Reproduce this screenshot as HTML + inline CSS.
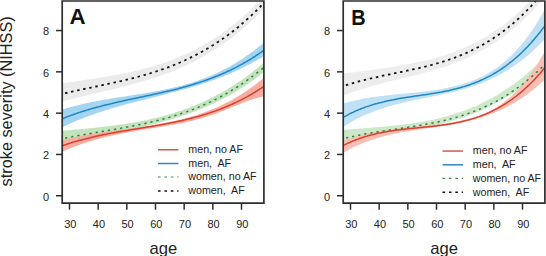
<!DOCTYPE html>
<html><head><meta charset="utf-8"><style>
html,body{margin:0;padding:0;background:#fff;width:546px;height:256px;overflow:hidden}
svg{display:block;font-family:"Liberation Sans",sans-serif}
</style></head><body>
<svg width="546" height="256" viewBox="0 0 546 256" font-family="Liberation Sans, sans-serif" fill="#222">
<defs><clipPath id="ca"><rect x="62.2" y="1" width="201.7" height="202.2"/></clipPath><clipPath id="cb"><rect x="343.2" y="1" width="201.7" height="202.2"/></clipPath></defs>
<g clip-path="url(#ca)">
<path d="M59.0,83.8 L61.0,83.5 L63.0,83.2 L65.0,82.9 L67.0,82.6 L69.0,82.3 L71.0,82.0 L73.0,81.7 L75.0,81.4 L77.0,81.1 L79.0,80.8 L81.0,80.5 L83.0,80.2 L85.0,79.9 L87.0,79.6 L89.0,79.3 L91.0,79.0 L93.0,78.7 L95.0,78.4 L97.0,78.1 L99.0,77.8 L101.0,77.5 L103.0,77.2 L105.0,76.8 L107.0,76.5 L109.0,76.2 L111.0,75.8 L113.0,75.5 L115.0,75.1 L117.0,74.8 L119.0,74.4 L121.0,74.0 L123.0,73.6 L125.0,73.2 L127.0,72.8 L129.0,72.4 L131.0,72.0 L133.0,71.5 L135.0,71.1 L137.0,70.6 L139.0,70.1 L141.0,69.7 L143.0,69.1 L145.0,68.6 L147.0,68.1 L149.0,67.5 L151.0,67.0 L153.0,66.4 L155.0,65.8 L157.0,65.2 L159.0,64.6 L161.0,63.9 L163.0,63.2 L165.0,62.5 L167.0,61.8 L169.0,61.1 L171.0,60.4 L173.0,59.6 L175.0,58.8 L177.0,58.0 L179.0,57.2 L181.0,56.3 L183.0,55.5 L185.0,54.6 L187.0,53.7 L189.0,52.7 L191.0,51.7 L193.0,50.8 L195.0,49.7 L197.0,48.7 L199.0,47.6 L201.0,46.5 L203.0,45.4 L205.0,44.3 L207.0,43.1 L209.0,41.9 L211.0,40.6 L213.0,39.4 L215.0,38.1 L217.0,36.8 L219.0,35.4 L221.0,34.0 L223.0,32.6 L225.0,31.1 L227.0,29.7 L229.0,28.1 L231.0,26.6 L233.0,25.0 L235.0,23.4 L237.0,21.7 L239.0,20.0 L241.0,18.3 L243.0,16.5 L245.0,14.7 L247.0,12.9 L249.0,11.0 L251.0,9.1 L253.0,7.2 L255.0,5.2 L257.0,3.1 L259.0,1.1 L261.0,-1.0 L263.0,-3.2 L265.0,-5.4 L267.0,-7.6 L267.0,5.7 L265.0,7.8 L263.0,9.9 L261.0,11.9 L259.0,14.0 L257.0,15.9 L255.0,17.9 L253.0,19.8 L251.0,21.6 L249.0,23.5 L247.0,25.2 L245.0,27.0 L243.0,28.7 L241.0,30.4 L239.0,32.1 L237.0,33.7 L235.0,35.3 L233.0,36.8 L231.0,38.4 L229.0,39.9 L227.0,41.3 L225.0,42.8 L223.0,44.2 L221.0,45.5 L219.0,46.9 L217.0,48.2 L215.0,49.5 L213.0,50.8 L211.0,52.0 L209.0,53.2 L207.0,54.4 L205.0,55.5 L203.0,56.7 L201.0,57.8 L199.0,58.9 L197.0,59.9 L195.0,61.0 L193.0,62.0 L191.0,63.0 L189.0,63.9 L187.0,64.9 L185.0,65.8 L183.0,66.7 L181.0,67.6 L179.0,68.5 L177.0,69.3 L175.0,70.2 L173.0,71.0 L171.0,71.8 L169.0,72.5 L167.0,73.3 L165.0,74.0 L163.0,74.8 L161.0,75.5 L159.0,76.2 L157.0,76.9 L155.0,77.5 L153.0,78.2 L151.0,78.8 L149.0,79.5 L147.0,80.1 L145.0,80.7 L143.0,81.3 L141.0,81.9 L139.0,82.4 L137.0,83.0 L135.0,83.6 L133.0,84.1 L131.0,84.6 L129.0,85.2 L127.0,85.7 L125.0,86.2 L123.0,86.7 L121.0,87.2 L119.0,87.7 L117.0,88.2 L115.0,88.7 L113.0,89.2 L111.0,89.7 L109.0,90.1 L107.0,90.6 L105.0,91.1 L103.0,91.5 L101.0,92.0 L99.0,92.5 L97.0,92.9 L95.0,93.4 L93.0,93.9 L91.0,94.3 L89.0,94.8 L87.0,95.3 L85.0,95.8 L83.0,96.2 L81.0,96.7 L79.0,97.2 L77.0,97.7 L75.0,98.2 L73.0,98.7 L71.0,99.2 L69.0,99.7 L67.0,100.2 L65.0,100.7 L63.0,101.3 L61.0,101.8 L59.0,102.3Z" fill="#ebebeb"/>
<path d="M59.0,110.6 L61.0,110.0 L63.0,109.3 L65.0,108.7 L67.0,108.1 L69.0,107.6 L71.0,107.0 L73.0,106.5 L75.0,105.9 L77.0,105.4 L79.0,104.9 L81.0,104.4 L83.0,104.0 L85.0,103.5 L87.0,103.1 L89.0,102.7 L91.0,102.2 L93.0,101.8 L95.0,101.4 L97.0,101.1 L99.0,100.7 L101.0,100.3 L103.0,100.0 L105.0,99.6 L107.0,99.3 L109.0,98.9 L111.0,98.6 L113.0,98.3 L115.0,98.0 L117.0,97.6 L119.0,97.3 L121.0,97.0 L123.0,96.7 L125.0,96.4 L127.0,96.1 L129.0,95.8 L131.0,95.5 L133.0,95.1 L135.0,94.8 L137.0,94.5 L139.0,94.2 L141.0,93.9 L143.0,93.6 L145.0,93.2 L147.0,92.9 L149.0,92.5 L151.0,92.2 L153.0,91.8 L155.0,91.5 L157.0,91.1 L159.0,90.7 L161.0,90.3 L163.0,89.9 L165.0,89.5 L167.0,89.1 L169.0,88.7 L171.0,88.2 L173.0,87.7 L175.0,87.3 L177.0,86.8 L179.0,86.3 L181.0,85.8 L183.0,85.2 L185.0,84.7 L187.0,84.1 L189.0,83.5 L191.0,82.9 L193.0,82.3 L195.0,81.6 L197.0,80.9 L199.0,80.2 L201.0,79.5 L203.0,78.8 L205.0,78.0 L207.0,77.2 L209.0,76.4 L211.0,75.6 L213.0,74.7 L215.0,73.9 L217.0,73.0 L219.0,72.0 L221.0,71.0 L223.0,70.0 L225.0,69.0 L227.0,68.0 L229.0,66.9 L231.0,65.8 L233.0,64.6 L235.0,63.4 L237.0,62.2 L239.0,61.0 L241.0,59.7 L243.0,58.4 L245.0,57.0 L247.0,55.6 L249.0,54.2 L251.0,52.7 L253.0,51.2 L255.0,49.7 L257.0,48.1 L259.0,46.5 L261.0,44.9 L263.0,43.2 L265.0,41.4 L267.0,39.6 L267.0,54.2 L265.0,55.5 L263.0,56.7 L261.0,57.9 L259.0,59.1 L257.0,60.2 L255.0,61.3 L253.0,62.4 L251.0,63.5 L249.0,64.6 L247.0,65.6 L245.0,66.6 L243.0,67.6 L241.0,68.6 L239.0,69.5 L237.0,70.4 L235.0,71.3 L233.0,72.2 L231.0,73.1 L229.0,74.0 L227.0,74.8 L225.0,75.6 L223.0,76.4 L221.0,77.2 L219.0,78.0 L217.0,78.7 L215.0,79.4 L213.0,80.2 L211.0,80.9 L209.0,81.6 L207.0,82.2 L205.0,82.9 L203.0,83.6 L201.0,84.2 L199.0,84.9 L197.0,85.5 L195.0,86.1 L193.0,86.7 L191.0,87.3 L189.0,87.9 L187.0,88.4 L185.0,89.0 L183.0,89.6 L181.0,90.1 L179.0,90.7 L177.0,91.2 L175.0,91.7 L173.0,92.3 L171.0,92.8 L169.0,93.3 L167.0,93.8 L165.0,94.3 L163.0,94.9 L161.0,95.4 L159.0,95.9 L157.0,96.4 L155.0,96.9 L153.0,97.4 L151.0,97.9 L149.0,98.4 L147.0,98.9 L145.0,99.4 L143.0,99.9 L141.0,100.4 L139.0,100.9 L137.0,101.4 L135.0,101.9 L133.0,102.5 L131.0,103.0 L129.0,103.5 L127.0,104.1 L125.0,104.6 L123.0,105.2 L121.0,105.7 L119.0,106.3 L117.0,106.8 L115.0,107.4 L113.0,108.0 L111.0,108.6 L109.0,109.2 L107.0,109.8 L105.0,110.5 L103.0,111.1 L101.0,111.7 L99.0,112.4 L97.0,113.1 L95.0,113.8 L93.0,114.5 L91.0,115.2 L89.0,115.9 L87.0,116.6 L85.0,117.4 L83.0,118.2 L81.0,119.0 L79.0,119.8 L77.0,120.6 L75.0,121.4 L73.0,122.3 L71.0,123.2 L69.0,124.1 L67.0,125.0 L65.0,125.9 L63.0,126.9 L61.0,127.8 L59.0,128.8Z" fill="#a4d5f0"/>
<path d="M59.0,131.1 L61.0,130.9 L63.0,130.7 L65.0,130.6 L67.0,130.4 L69.0,130.2 L71.0,130.0 L73.0,129.8 L75.0,129.6 L77.0,129.5 L79.0,129.3 L81.0,129.1 L83.0,128.9 L85.0,128.7 L87.0,128.5 L89.0,128.3 L91.0,128.1 L93.0,127.9 L95.0,127.7 L97.0,127.5 L99.0,127.3 L101.0,127.1 L103.0,126.8 L105.0,126.6 L107.0,126.4 L109.0,126.1 L111.0,125.9 L113.0,125.6 L115.0,125.4 L117.0,125.1 L119.0,124.8 L121.0,124.5 L123.0,124.2 L125.0,123.9 L127.0,123.6 L129.0,123.3 L131.0,123.0 L133.0,122.6 L135.0,122.3 L137.0,121.9 L139.0,121.6 L141.0,121.2 L143.0,120.8 L145.0,120.4 L147.0,120.0 L149.0,119.5 L151.0,119.1 L153.0,118.6 L155.0,118.2 L157.0,117.7 L159.0,117.2 L161.0,116.7 L163.0,116.1 L165.0,115.6 L167.0,115.0 L169.0,114.5 L171.0,113.9 L173.0,113.3 L175.0,112.6 L177.0,112.0 L179.0,111.3 L181.0,110.7 L183.0,110.0 L185.0,109.3 L187.0,108.5 L189.0,107.8 L191.0,107.0 L193.0,106.2 L195.0,105.4 L197.0,104.6 L199.0,103.7 L201.0,102.8 L203.0,101.9 L205.0,101.0 L207.0,100.1 L209.0,99.1 L211.0,98.1 L213.0,97.1 L215.0,96.1 L217.0,95.1 L219.0,94.0 L221.0,92.9 L223.0,91.7 L225.0,90.6 L227.0,89.4 L229.0,88.2 L231.0,87.0 L233.0,85.7 L235.0,84.4 L237.0,83.1 L239.0,81.8 L241.0,80.4 L243.0,79.0 L245.0,77.6 L247.0,76.2 L249.0,74.7 L251.0,73.2 L253.0,71.7 L255.0,70.1 L257.0,68.5 L259.0,66.9 L261.0,65.2 L263.0,63.5 L265.0,61.8 L267.0,60.0 L267.0,69.5 L265.0,71.2 L263.0,72.8 L261.0,74.3 L259.0,75.9 L257.0,77.4 L255.0,78.9 L253.0,80.3 L251.0,81.7 L249.0,83.1 L247.0,84.5 L245.0,85.8 L243.0,87.1 L241.0,88.4 L239.0,89.6 L237.0,90.9 L235.0,92.1 L233.0,93.3 L231.0,94.4 L229.0,95.5 L227.0,96.6 L225.0,97.7 L223.0,98.8 L221.0,99.8 L219.0,100.8 L217.0,101.8 L215.0,102.8 L213.0,103.7 L211.0,104.6 L209.0,105.5 L207.0,106.4 L205.0,107.3 L203.0,108.1 L201.0,109.0 L199.0,109.8 L197.0,110.6 L195.0,111.3 L193.0,112.1 L191.0,112.8 L189.0,113.6 L187.0,114.3 L185.0,115.0 L183.0,115.6 L181.0,116.3 L179.0,116.9 L177.0,117.6 L175.0,118.2 L173.0,118.8 L171.0,119.4 L169.0,120.0 L167.0,120.6 L165.0,121.1 L163.0,121.7 L161.0,122.2 L159.0,122.7 L157.0,123.3 L155.0,123.8 L153.0,124.3 L151.0,124.8 L149.0,125.3 L147.0,125.7 L145.0,126.2 L143.0,126.7 L141.0,127.1 L139.0,127.6 L137.0,128.0 L135.0,128.5 L133.0,128.9 L131.0,129.4 L129.0,129.8 L127.0,130.2 L125.0,130.6 L123.0,131.1 L121.0,131.5 L119.0,131.9 L117.0,132.3 L115.0,132.7 L113.0,133.2 L111.0,133.6 L109.0,134.0 L107.0,134.4 L105.0,134.8 L103.0,135.2 L101.0,135.7 L99.0,136.1 L97.0,136.5 L95.0,136.9 L93.0,137.4 L91.0,137.8 L89.0,138.3 L87.0,138.7 L85.0,139.2 L83.0,139.6 L81.0,140.1 L79.0,140.6 L77.0,141.0 L75.0,141.5 L73.0,142.0 L71.0,142.5 L69.0,143.0 L67.0,143.6 L65.0,144.1 L63.0,144.6 L61.0,145.2 L59.0,145.7Z" fill="#c2e3bc"/>
<path d="M59.0,141.2 L61.0,140.6 L63.0,140.1 L65.0,139.6 L67.0,139.1 L69.0,138.6 L71.0,138.1 L73.0,137.7 L75.0,137.2 L77.0,136.8 L79.0,136.4 L81.0,136.0 L83.0,135.6 L85.0,135.2 L87.0,134.8 L89.0,134.5 L91.0,134.1 L93.0,133.8 L95.0,133.5 L97.0,133.1 L99.0,132.8 L101.0,132.5 L103.0,132.2 L105.0,131.9 L107.0,131.6 L109.0,131.3 L111.0,131.1 L113.0,130.8 L115.0,130.5 L117.0,130.2 L119.0,130.0 L121.0,129.7 L123.0,129.4 L125.0,129.2 L127.0,128.9 L129.0,128.6 L131.0,128.4 L133.0,128.1 L135.0,127.8 L137.0,127.5 L139.0,127.2 L141.0,127.0 L143.0,126.7 L145.0,126.4 L147.0,126.1 L149.0,125.8 L151.0,125.4 L153.0,125.1 L155.0,124.8 L157.0,124.4 L159.0,124.1 L161.0,123.7 L163.0,123.4 L165.0,123.0 L167.0,122.6 L169.0,122.2 L171.0,121.8 L173.0,121.3 L175.0,120.9 L177.0,120.4 L179.0,120.0 L181.0,119.5 L183.0,119.0 L185.0,118.4 L187.0,117.9 L189.0,117.3 L191.0,116.8 L193.0,116.2 L195.0,115.5 L197.0,114.9 L199.0,114.2 L201.0,113.6 L203.0,112.9 L205.0,112.1 L207.0,111.4 L209.0,110.6 L211.0,109.8 L213.0,109.0 L215.0,108.2 L217.0,107.3 L219.0,106.4 L221.0,105.5 L223.0,104.5 L225.0,103.5 L227.0,102.5 L229.0,101.5 L231.0,100.4 L233.0,99.3 L235.0,98.1 L237.0,97.0 L239.0,95.8 L241.0,94.5 L243.0,93.3 L245.0,92.0 L247.0,90.6 L249.0,89.3 L251.0,87.8 L253.0,86.4 L255.0,84.9 L257.0,83.4 L259.0,81.8 L261.0,80.2 L263.0,78.6 L265.0,76.9 L267.0,75.2 L267.0,95.8 L265.0,96.2 L263.0,96.6 L261.0,97.1 L259.0,97.6 L257.0,98.1 L255.0,98.7 L253.0,99.3 L251.0,99.9 L249.0,100.6 L247.0,101.3 L245.0,102.1 L243.0,102.8 L241.0,103.6 L239.0,104.4 L237.0,105.2 L235.0,106.0 L233.0,106.8 L231.0,107.6 L229.0,108.4 L227.0,109.2 L225.0,110.1 L223.0,110.9 L221.0,111.6 L219.0,112.4 L217.0,113.2 L215.0,113.9 L213.0,114.6 L211.0,115.3 L209.0,116.0 L207.0,116.6 L205.0,117.3 L203.0,117.9 L201.0,118.5 L199.0,119.1 L197.0,119.6 L195.0,120.1 L193.0,120.6 L191.0,121.1 L189.0,121.6 L187.0,122.0 L185.0,122.5 L183.0,122.9 L181.0,123.3 L179.0,123.7 L177.0,124.1 L175.0,124.4 L173.0,124.8 L171.0,125.1 L169.0,125.5 L167.0,125.8 L165.0,126.2 L163.0,126.5 L161.0,126.8 L159.0,127.2 L157.0,127.5 L155.0,127.8 L153.0,128.1 L151.0,128.5 L149.0,128.8 L147.0,129.1 L145.0,129.4 L143.0,129.8 L141.0,130.1 L139.0,130.4 L137.0,130.8 L135.0,131.1 L133.0,131.5 L131.0,131.8 L129.0,132.2 L127.0,132.6 L125.0,132.9 L123.0,133.3 L121.0,133.7 L119.0,134.1 L117.0,134.5 L115.0,135.0 L113.0,135.4 L111.0,135.8 L109.0,136.3 L107.0,136.8 L105.0,137.3 L103.0,137.8 L101.0,138.3 L99.0,138.8 L97.0,139.3 L95.0,139.9 L93.0,140.5 L91.0,141.1 L89.0,141.7 L87.0,142.3 L85.0,143.0 L83.0,143.6 L81.0,144.3 L79.0,145.0 L77.0,145.8 L75.0,146.5 L73.0,147.3 L71.0,148.1 L69.0,148.9 L67.0,149.8 L65.0,150.6 L63.0,151.5 L61.0,152.4 L59.0,153.4Z" fill="#f6aea0"/>
<path d="M59.0,94.7 L60.0,94.4 L61.0,94.2 L62.0,93.9 L63.0,93.7 L64.0,93.5 L65.0,93.2 L66.0,93.0 L67.0,92.8 L68.0,92.5 L69.0,92.3 L70.0,92.1 L71.0,91.9 L72.0,91.6 L73.0,91.4 L74.0,91.2 L75.0,91.0 L76.0,90.8 L77.0,90.5 L78.0,90.3 L79.0,90.1 L80.0,89.9 L81.0,89.7 L82.0,89.5 L83.0,89.2 L84.0,89.0 L85.0,88.8 L86.0,88.6 L87.0,88.4 L88.0,88.2 L89.0,88.0 L90.0,87.8 L91.0,87.5 L92.0,87.3 L93.0,87.1 L94.0,86.9 L95.0,86.7 L96.0,86.5 L97.0,86.3 L98.0,86.1 L99.0,85.9 L100.0,85.6 L101.0,85.4 L102.0,85.2 L103.0,85.0 L104.0,84.8 L105.0,84.6 L106.0,84.4 L107.0,84.2 L108.0,83.9 L109.0,83.7 L110.0,83.5 L111.0,83.3 L112.0,83.1 L113.0,82.8 L114.0,82.6 L115.0,82.4 L116.0,82.2 L117.0,81.9 L118.0,81.7 L119.0,81.5 L120.0,81.3 L121.0,81.0 L122.0,80.8 L123.0,80.6 L124.0,80.3 L125.0,80.1 L126.0,79.8 L127.0,79.6 L128.0,79.4 L129.0,79.1 L130.0,78.9 L131.0,78.6 L132.0,78.4 L133.0,78.1 L134.0,77.8 L135.0,77.6 L136.0,77.3 L137.0,77.1 L138.0,76.8 L139.0,76.5 L140.0,76.2 L141.0,76.0 L142.0,75.7 L143.0,75.4 L144.0,75.1 L145.0,74.8 L146.0,74.5 L147.0,74.3 L148.0,74.0 L149.0,73.7 L150.0,73.4 L151.0,73.0 L152.0,72.7 L153.0,72.4 L154.0,72.1 L155.0,71.8 L156.0,71.5 L157.0,71.1 L158.0,70.8 L159.0,70.5 L160.0,70.1 L161.0,69.8 L162.0,69.4 L163.0,69.1 L164.0,68.7 L165.0,68.4 L166.0,68.0 L167.0,67.7 L168.0,67.3 L169.0,66.9 L170.0,66.5 L171.0,66.1 L172.0,65.8 L173.0,65.4 L174.0,65.0 L175.0,64.6 L176.0,64.2 L177.0,63.7 L178.0,63.3 L179.0,62.9 L180.0,62.5 L181.0,62.0 L182.0,61.6 L183.0,61.2 L184.0,60.7 L185.0,60.3 L186.0,59.8 L187.0,59.3 L188.0,58.9 L189.0,58.4 L190.0,57.9 L191.0,57.4 L192.0,56.9 L193.0,56.4 L194.0,55.9 L195.0,55.4 L196.0,54.9 L197.0,54.4 L198.0,53.9 L199.0,53.3 L200.0,52.8 L201.0,52.3 L202.0,51.7 L203.0,51.1 L204.0,50.6 L205.0,50.0 L206.0,49.4 L207.0,48.8 L208.0,48.3 L209.0,47.7 L210.0,47.1 L211.0,46.4 L212.0,45.8 L213.0,45.2 L214.0,44.6 L215.0,43.9 L216.0,43.3 L217.0,42.6 L218.0,42.0 L219.0,41.3 L220.0,40.6 L221.0,39.9 L222.0,39.3 L223.0,38.6 L224.0,37.9 L225.0,37.1 L226.0,36.4 L227.0,35.7 L228.0,35.0 L229.0,34.2 L230.0,33.5 L231.0,32.7 L232.0,31.9 L233.0,31.2 L234.0,30.4 L235.0,29.6 L236.0,28.8 L237.0,28.0 L238.0,27.2 L239.0,26.3 L240.0,25.5 L241.0,24.7 L242.0,23.8 L243.0,23.0 L244.0,22.1 L245.0,21.2 L246.0,20.3 L247.0,19.4 L248.0,18.5 L249.0,17.6 L250.0,16.7 L251.0,15.8 L252.0,14.8 L253.0,13.9 L254.0,12.9 L255.0,12.0 L256.0,11.0 L257.0,10.0 L258.0,9.0 L259.0,8.0 L260.0,7.0 L261.0,6.0 L262.0,4.9 L263.0,3.9 L264.0,2.8 L265.0,1.8 L266.0,0.7 L267.0,-0.4" fill="none" stroke="#151515" stroke-width="1.8" stroke-dasharray="2.5 3.7"/>
<path d="M59.0,120.1 L60.0,119.7 L61.0,119.3 L62.0,118.9 L63.0,118.5 L64.0,118.1 L65.0,117.7 L66.0,117.3 L67.0,116.9 L68.0,116.5 L69.0,116.1 L70.0,115.8 L71.0,115.4 L72.0,115.0 L73.0,114.7 L74.0,114.3 L75.0,114.0 L76.0,113.6 L77.0,113.3 L78.0,112.9 L79.0,112.6 L80.0,112.3 L81.0,111.9 L82.0,111.6 L83.0,111.3 L84.0,111.0 L85.0,110.7 L86.0,110.4 L87.0,110.1 L88.0,109.8 L89.0,109.5 L90.0,109.2 L91.0,108.9 L92.0,108.6 L93.0,108.3 L94.0,108.0 L95.0,107.8 L96.0,107.5 L97.0,107.2 L98.0,106.9 L99.0,106.7 L100.0,106.4 L101.0,106.2 L102.0,105.9 L103.0,105.6 L104.0,105.4 L105.0,105.1 L106.0,104.9 L107.0,104.6 L108.0,104.4 L109.0,104.2 L110.0,103.9 L111.0,103.7 L112.0,103.4 L113.0,103.2 L114.0,103.0 L115.0,102.7 L116.0,102.5 L117.0,102.3 L118.0,102.0 L119.0,101.8 L120.0,101.6 L121.0,101.4 L122.0,101.2 L123.0,100.9 L124.0,100.7 L125.0,100.5 L126.0,100.3 L127.0,100.1 L128.0,99.8 L129.0,99.6 L130.0,99.4 L131.0,99.2 L132.0,99.0 L133.0,98.8 L134.0,98.6 L135.0,98.4 L136.0,98.1 L137.0,97.9 L138.0,97.7 L139.0,97.5 L140.0,97.3 L141.0,97.1 L142.0,96.9 L143.0,96.7 L144.0,96.4 L145.0,96.2 L146.0,96.0 L147.0,95.8 L148.0,95.6 L149.0,95.4 L150.0,95.2 L151.0,95.0 L152.0,94.7 L153.0,94.5 L154.0,94.3 L155.0,94.1 L156.0,93.9 L157.0,93.6 L158.0,93.4 L159.0,93.2 L160.0,93.0 L161.0,92.8 L162.0,92.5 L163.0,92.3 L164.0,92.1 L165.0,91.8 L166.0,91.6 L167.0,91.4 L168.0,91.1 L169.0,90.9 L170.0,90.7 L171.0,90.4 L172.0,90.2 L173.0,89.9 L174.0,89.7 L175.0,89.4 L176.0,89.2 L177.0,88.9 L178.0,88.7 L179.0,88.4 L180.0,88.1 L181.0,87.9 L182.0,87.6 L183.0,87.3 L184.0,87.1 L185.0,86.8 L186.0,86.5 L187.0,86.2 L188.0,85.9 L189.0,85.6 L190.0,85.4 L191.0,85.1 L192.0,84.8 L193.0,84.5 L194.0,84.2 L195.0,83.8 L196.0,83.5 L197.0,83.2 L198.0,82.9 L199.0,82.6 L200.0,82.2 L201.0,81.9 L202.0,81.6 L203.0,81.2 L204.0,80.9 L205.0,80.5 L206.0,80.2 L207.0,79.8 L208.0,79.5 L209.0,79.1 L210.0,78.7 L211.0,78.4 L212.0,78.0 L213.0,77.6 L214.0,77.2 L215.0,76.8 L216.0,76.4 L217.0,76.0 L218.0,75.6 L219.0,75.2 L220.0,74.8 L221.0,74.4 L222.0,73.9 L223.0,73.5 L224.0,73.0 L225.0,72.6 L226.0,72.2 L227.0,71.7 L228.0,71.2 L229.0,70.8 L230.0,70.3 L231.0,69.8 L232.0,69.3 L233.0,68.8 L234.0,68.3 L235.0,67.8 L236.0,67.3 L237.0,66.8 L238.0,66.3 L239.0,65.7 L240.0,65.2 L241.0,64.7 L242.0,64.1 L243.0,63.6 L244.0,63.0 L245.0,62.4 L246.0,61.9 L247.0,61.3 L248.0,60.7 L249.0,60.1 L250.0,59.5 L251.0,58.9 L252.0,58.3 L253.0,57.6 L254.0,57.0 L255.0,56.4 L256.0,55.7 L257.0,55.0 L258.0,54.4 L259.0,53.7 L260.0,53.0 L261.0,52.3 L262.0,51.7 L263.0,50.9 L264.0,50.2 L265.0,49.5 L266.0,48.8 L267.0,48.1" fill="none" stroke="#1f86c6" stroke-width="1.5"/>
<path d="M59.0,139.3 L60.0,139.1 L61.0,138.9 L62.0,138.7 L63.0,138.5 L64.0,138.3 L65.0,138.1 L66.0,137.9 L67.0,137.7 L68.0,137.5 L69.0,137.3 L70.0,137.1 L71.0,136.9 L72.0,136.8 L73.0,136.6 L74.0,136.4 L75.0,136.2 L76.0,136.0 L77.0,135.8 L78.0,135.6 L79.0,135.5 L80.0,135.3 L81.0,135.1 L82.0,134.9 L83.0,134.7 L84.0,134.6 L85.0,134.4 L86.0,134.2 L87.0,134.0 L88.0,133.9 L89.0,133.7 L90.0,133.5 L91.0,133.4 L92.0,133.2 L93.0,133.0 L94.0,132.8 L95.0,132.7 L96.0,132.5 L97.0,132.3 L98.0,132.2 L99.0,132.0 L100.0,131.8 L101.0,131.7 L102.0,131.5 L103.0,131.3 L104.0,131.2 L105.0,131.0 L106.0,130.8 L107.0,130.6 L108.0,130.5 L109.0,130.3 L110.0,130.1 L111.0,130.0 L112.0,129.8 L113.0,129.6 L114.0,129.4 L115.0,129.3 L116.0,129.1 L117.0,128.9 L118.0,128.7 L119.0,128.6 L120.0,128.4 L121.0,128.2 L122.0,128.0 L123.0,127.8 L124.0,127.6 L125.0,127.5 L126.0,127.3 L127.0,127.1 L128.0,126.9 L129.0,126.7 L130.0,126.5 L131.0,126.3 L132.0,126.1 L133.0,125.9 L134.0,125.7 L135.0,125.5 L136.0,125.3 L137.0,125.1 L138.0,124.9 L139.0,124.7 L140.0,124.5 L141.0,124.3 L142.0,124.1 L143.0,123.9 L144.0,123.7 L145.0,123.4 L146.0,123.2 L147.0,123.0 L148.0,122.8 L149.0,122.5 L150.0,122.3 L151.0,122.1 L152.0,121.8 L153.0,121.6 L154.0,121.4 L155.0,121.1 L156.0,120.9 L157.0,120.6 L158.0,120.4 L159.0,120.1 L160.0,119.9 L161.0,119.6 L162.0,119.3 L163.0,119.1 L164.0,118.8 L165.0,118.5 L166.0,118.2 L167.0,118.0 L168.0,117.7 L169.0,117.4 L170.0,117.1 L171.0,116.8 L172.0,116.5 L173.0,116.2 L174.0,115.9 L175.0,115.6 L176.0,115.3 L177.0,115.0 L178.0,114.7 L179.0,114.3 L180.0,114.0 L181.0,113.7 L182.0,113.3 L183.0,113.0 L184.0,112.6 L185.0,112.3 L186.0,111.9 L187.0,111.6 L188.0,111.2 L189.0,110.9 L190.0,110.5 L191.0,110.1 L192.0,109.7 L193.0,109.4 L194.0,109.0 L195.0,108.6 L196.0,108.2 L197.0,107.8 L198.0,107.4 L199.0,106.9 L200.0,106.5 L201.0,106.1 L202.0,105.7 L203.0,105.2 L204.0,104.8 L205.0,104.4 L206.0,103.9 L207.0,103.5 L208.0,103.0 L209.0,102.5 L210.0,102.1 L211.0,101.6 L212.0,101.1 L213.0,100.6 L214.0,100.1 L215.0,99.6 L216.0,99.1 L217.0,98.6 L218.0,98.1 L219.0,97.6 L220.0,97.1 L221.0,96.5 L222.0,96.0 L223.0,95.4 L224.0,94.9 L225.0,94.3 L226.0,93.8 L227.0,93.2 L228.0,92.6 L229.0,92.0 L230.0,91.4 L231.0,90.8 L232.0,90.2 L233.0,89.6 L234.0,89.0 L235.0,88.4 L236.0,87.8 L237.0,87.1 L238.0,86.5 L239.0,85.8 L240.0,85.2 L241.0,84.5 L242.0,83.8 L243.0,83.2 L244.0,82.5 L245.0,81.8 L246.0,81.1 L247.0,80.4 L248.0,79.7 L249.0,78.9 L250.0,78.2 L251.0,77.5 L252.0,76.7 L253.0,76.0 L254.0,75.2 L255.0,74.5 L256.0,73.7 L257.0,72.9 L258.0,72.1 L259.0,71.3 L260.0,70.5 L261.0,69.7 L262.0,68.9 L263.0,68.0 L264.0,67.2 L265.0,66.3 L266.0,65.5 L267.0,64.6" fill="none" stroke="#2f8240" stroke-width="1.5" stroke-dasharray="2.3 3.9"/>
<path d="M59.0,146.9 L60.0,146.5 L61.0,146.2 L62.0,145.8 L63.0,145.5 L64.0,145.1 L65.0,144.8 L66.0,144.5 L67.0,144.1 L68.0,143.8 L69.0,143.5 L70.0,143.2 L71.0,142.9 L72.0,142.5 L73.0,142.2 L74.0,141.9 L75.0,141.6 L76.0,141.4 L77.0,141.1 L78.0,140.8 L79.0,140.5 L80.0,140.2 L81.0,140.0 L82.0,139.7 L83.0,139.4 L84.0,139.2 L85.0,138.9 L86.0,138.7 L87.0,138.4 L88.0,138.2 L89.0,137.9 L90.0,137.7 L91.0,137.4 L92.0,137.2 L93.0,137.0 L94.0,136.7 L95.0,136.5 L96.0,136.3 L97.0,136.1 L98.0,135.9 L99.0,135.6 L100.0,135.4 L101.0,135.2 L102.0,135.0 L103.0,134.8 L104.0,134.6 L105.0,134.4 L106.0,134.2 L107.0,134.0 L108.0,133.8 L109.0,133.6 L110.0,133.4 L111.0,133.2 L112.0,133.1 L113.0,132.9 L114.0,132.7 L115.0,132.5 L116.0,132.3 L117.0,132.1 L118.0,132.0 L119.0,131.8 L120.0,131.6 L121.0,131.4 L122.0,131.3 L123.0,131.1 L124.0,130.9 L125.0,130.8 L126.0,130.6 L127.0,130.4 L128.0,130.3 L129.0,130.1 L130.0,129.9 L131.0,129.8 L132.0,129.6 L133.0,129.4 L134.0,129.3 L135.0,129.1 L136.0,128.9 L137.0,128.8 L138.0,128.6 L139.0,128.4 L140.0,128.3 L141.0,128.1 L142.0,127.9 L143.0,127.8 L144.0,127.6 L145.0,127.5 L146.0,127.3 L147.0,127.1 L148.0,127.0 L149.0,126.8 L150.0,126.6 L151.0,126.4 L152.0,126.3 L153.0,126.1 L154.0,125.9 L155.0,125.8 L156.0,125.6 L157.0,125.4 L158.0,125.2 L159.0,125.1 L160.0,124.9 L161.0,124.7 L162.0,124.5 L163.0,124.3 L164.0,124.2 L165.0,124.0 L166.0,123.8 L167.0,123.6 L168.0,123.4 L169.0,123.2 L170.0,123.0 L171.0,122.8 L172.0,122.6 L173.0,122.4 L174.0,122.2 L175.0,122.0 L176.0,121.8 L177.0,121.6 L178.0,121.4 L179.0,121.1 L180.0,120.9 L181.0,120.7 L182.0,120.5 L183.0,120.2 L184.0,120.0 L185.0,119.8 L186.0,119.5 L187.0,119.3 L188.0,119.1 L189.0,118.8 L190.0,118.6 L191.0,118.3 L192.0,118.1 L193.0,117.8 L194.0,117.5 L195.0,117.3 L196.0,117.0 L197.0,116.7 L198.0,116.4 L199.0,116.2 L200.0,115.9 L201.0,115.6 L202.0,115.3 L203.0,115.0 L204.0,114.7 L205.0,114.4 L206.0,114.1 L207.0,113.7 L208.0,113.4 L209.0,113.1 L210.0,112.8 L211.0,112.4 L212.0,112.1 L213.0,111.8 L214.0,111.4 L215.0,111.1 L216.0,110.7 L217.0,110.3 L218.0,110.0 L219.0,109.6 L220.0,109.2 L221.0,108.8 L222.0,108.4 L223.0,108.0 L224.0,107.6 L225.0,107.2 L226.0,106.8 L227.0,106.4 L228.0,106.0 L229.0,105.5 L230.0,105.1 L231.0,104.7 L232.0,104.2 L233.0,103.8 L234.0,103.3 L235.0,102.8 L236.0,102.4 L237.0,101.9 L238.0,101.4 L239.0,100.9 L240.0,100.4 L241.0,99.9 L242.0,99.4 L243.0,98.9 L244.0,98.3 L245.0,97.8 L246.0,97.3 L247.0,96.7 L248.0,96.2 L249.0,95.6 L250.0,95.0 L251.0,94.5 L252.0,93.9 L253.0,93.3 L254.0,92.7 L255.0,92.1 L256.0,91.5 L257.0,90.9 L258.0,90.2 L259.0,89.6 L260.0,88.9 L261.0,88.3 L262.0,87.6 L263.0,87.0 L264.0,86.3 L265.0,85.6 L266.0,84.9 L267.0,84.2" fill="none" stroke="#dd3d2c" stroke-width="1.5"/>
</g>
<g clip-path="url(#cb)">
<path d="M340.0,73.8 L342.0,73.6 L344.0,73.3 L346.0,73.1 L348.0,72.9 L350.0,72.6 L352.0,72.4 L354.0,72.2 L356.0,71.9 L358.0,71.7 L360.0,71.5 L362.0,71.2 L364.0,71.0 L366.0,70.7 L368.0,70.5 L370.0,70.2 L372.0,70.0 L374.0,69.7 L376.0,69.4 L378.0,69.1 L380.0,68.8 L382.0,68.5 L384.0,68.2 L386.0,67.8 L388.0,67.5 L390.0,67.2 L392.0,66.9 L394.0,66.5 L396.0,66.2 L398.0,65.9 L400.0,65.5 L402.0,65.2 L404.0,64.8 L406.0,64.5 L408.0,64.1 L410.0,63.7 L412.0,63.4 L414.0,63.0 L416.0,62.6 L418.0,62.1 L420.0,61.7 L422.0,61.3 L424.0,60.8 L426.0,60.4 L428.0,59.9 L430.0,59.4 L432.0,58.9 L434.0,58.3 L436.0,57.8 L438.0,57.2 L440.0,56.6 L442.0,56.0 L444.0,55.4 L446.0,54.7 L448.0,54.1 L450.0,53.4 L452.0,52.7 L454.0,51.9 L456.0,51.2 L458.0,50.4 L460.0,49.6 L462.0,48.8 L464.0,47.9 L466.0,47.1 L468.0,46.2 L470.0,45.2 L472.0,44.3 L474.0,43.3 L476.0,42.3 L478.0,41.2 L480.0,40.1 L482.0,39.0 L484.0,37.9 L486.0,36.7 L488.0,35.5 L490.0,34.2 L492.0,32.9 L494.0,31.6 L496.0,30.3 L498.0,28.9 L500.0,27.4 L502.0,25.9 L504.0,24.4 L506.0,22.9 L508.0,21.3 L510.0,19.6 L512.0,17.9 L514.0,16.2 L516.0,14.4 L518.0,12.6 L520.0,10.8 L522.0,8.8 L524.0,6.9 L526.0,4.9 L528.0,2.8 L530.0,0.7 L532.0,-1.5 L534.0,-3.7 L536.0,-5.9 L538.0,-8.3 L540.0,-10.6 L542.0,-13.1 L544.0,-15.6 L546.0,-18.1 L548.0,-20.7 L548.0,-7.3 L546.0,-4.8 L544.0,-2.4 L542.0,0.0 L540.0,2.4 L538.0,4.7 L536.0,6.9 L534.0,9.1 L532.0,11.2 L530.0,13.3 L528.0,15.3 L526.0,17.3 L524.0,19.3 L522.0,21.2 L520.0,23.0 L518.0,24.8 L516.0,26.6 L514.0,28.3 L512.0,30.0 L510.0,31.6 L508.0,33.2 L506.0,34.7 L504.0,36.3 L502.0,37.7 L500.0,39.2 L498.0,40.6 L496.0,41.9 L494.0,43.2 L492.0,44.5 L490.0,45.8 L488.0,47.0 L486.0,48.2 L484.0,49.4 L482.0,50.5 L480.0,51.6 L478.0,52.6 L476.0,53.7 L474.0,54.7 L472.0,55.7 L470.0,56.6 L468.0,57.5 L466.0,58.4 L464.0,59.3 L462.0,60.2 L460.0,61.0 L458.0,61.8 L456.0,62.6 L454.0,63.4 L452.0,64.1 L450.0,64.8 L448.0,65.5 L446.0,66.2 L444.0,66.9 L442.0,67.6 L440.0,68.2 L438.0,68.8 L436.0,69.4 L434.0,70.0 L432.0,70.6 L430.0,71.2 L428.0,71.8 L426.0,72.3 L424.0,72.8 L422.0,73.4 L420.0,73.9 L418.0,74.4 L416.0,74.9 L414.0,75.4 L412.0,75.9 L410.0,76.4 L408.0,76.9 L406.0,77.4 L404.0,77.9 L402.0,78.4 L400.0,78.9 L398.0,79.4 L396.0,79.9 L394.0,80.3 L392.0,80.8 L390.0,81.3 L388.0,81.8 L386.0,82.3 L384.0,82.8 L382.0,83.4 L380.0,83.9 L378.0,84.4 L376.0,84.9 L374.0,85.5 L372.0,86.0 L370.0,86.6 L368.0,87.2 L366.0,87.8 L364.0,88.4 L362.0,89.0 L360.0,89.6 L358.0,90.3 L356.0,90.9 L354.0,91.6 L352.0,92.3 L350.0,93.0 L348.0,93.8 L346.0,94.5 L344.0,95.3 L342.0,96.1 L340.0,96.9Z" fill="#ededed"/>
<path d="M340.0,104.6 L342.0,104.0 L344.0,103.3 L346.0,102.8 L348.0,102.2 L350.0,101.7 L352.0,101.2 L354.0,100.7 L356.0,100.2 L358.0,99.8 L360.0,99.4 L362.0,99.0 L364.0,98.6 L366.0,98.2 L368.0,97.9 L370.0,97.6 L372.0,97.3 L374.0,97.0 L376.0,96.7 L378.0,96.4 L380.0,96.2 L382.0,95.9 L384.0,95.7 L386.0,95.5 L388.0,95.2 L390.0,95.0 L392.0,94.8 L394.0,94.6 L396.0,94.4 L398.0,94.2 L400.0,94.0 L402.0,93.8 L404.0,93.6 L406.0,93.5 L408.0,93.3 L410.0,93.1 L412.0,92.9 L414.0,92.7 L416.0,92.5 L418.0,92.3 L420.0,92.0 L422.0,91.8 L424.0,91.6 L426.0,91.3 L428.0,91.1 L430.0,90.8 L432.0,90.5 L434.0,90.2 L436.0,89.9 L438.0,89.6 L440.0,89.2 L442.0,88.9 L444.0,88.5 L446.0,88.1 L448.0,87.7 L450.0,87.3 L452.0,86.8 L454.0,86.3 L456.0,85.8 L458.0,85.3 L460.0,84.7 L462.0,84.2 L464.0,83.6 L466.0,82.9 L468.0,82.2 L470.0,81.5 L472.0,80.8 L474.0,80.0 L476.0,79.2 L478.0,78.3 L480.0,77.4 L482.0,76.5 L484.0,75.5 L486.0,74.4 L488.0,73.3 L490.0,72.1 L492.0,70.9 L494.0,69.6 L496.0,68.3 L498.0,66.9 L500.0,65.4 L502.0,63.8 L504.0,62.2 L506.0,60.5 L508.0,58.7 L510.0,56.8 L512.0,54.9 L514.0,52.9 L516.0,50.8 L518.0,48.6 L520.0,46.3 L522.0,43.9 L524.0,41.4 L526.0,38.8 L528.0,36.1 L530.0,33.4 L532.0,30.5 L534.0,27.5 L536.0,24.4 L538.0,21.2 L540.0,17.8 L542.0,14.4 L544.0,10.8 L546.0,7.1 L548.0,3.3 L548.0,35.4 L546.0,37.6 L544.0,39.8 L542.0,41.9 L540.0,44.0 L538.0,46.0 L536.0,47.9 L534.0,49.8 L532.0,51.7 L530.0,53.5 L528.0,55.2 L526.0,56.9 L524.0,58.5 L522.0,60.1 L520.0,61.7 L518.0,63.1 L516.0,64.6 L514.0,66.0 L512.0,67.3 L510.0,68.6 L508.0,69.9 L506.0,71.1 L504.0,72.3 L502.0,73.5 L500.0,74.6 L498.0,75.6 L496.0,76.7 L494.0,77.7 L492.0,78.6 L490.0,79.5 L488.0,80.4 L486.0,81.3 L484.0,82.1 L482.0,82.9 L480.0,83.7 L478.0,84.5 L476.0,85.2 L474.0,85.9 L472.0,86.6 L470.0,87.2 L468.0,87.9 L466.0,88.5 L464.0,89.1 L462.0,89.6 L460.0,90.2 L458.0,90.7 L456.0,91.2 L454.0,91.7 L452.0,92.2 L450.0,92.7 L448.0,93.2 L446.0,93.6 L444.0,94.1 L442.0,94.5 L440.0,94.9 L438.0,95.4 L436.0,95.8 L434.0,96.2 L432.0,96.6 L430.0,97.0 L428.0,97.4 L426.0,97.8 L424.0,98.2 L422.0,98.6 L420.0,99.0 L418.0,99.4 L416.0,99.8 L414.0,100.3 L412.0,100.7 L410.0,101.1 L408.0,101.6 L406.0,102.0 L404.0,102.5 L402.0,102.9 L400.0,103.4 L398.0,103.9 L396.0,104.5 L394.0,105.0 L392.0,105.5 L390.0,106.1 L388.0,106.7 L386.0,107.3 L384.0,107.9 L382.0,108.6 L380.0,109.2 L378.0,109.9 L376.0,110.6 L374.0,111.4 L372.0,112.2 L370.0,113.0 L368.0,113.8 L366.0,114.6 L364.0,115.5 L362.0,116.4 L360.0,117.4 L358.0,118.4 L356.0,119.4 L354.0,120.5 L352.0,121.6 L350.0,122.7 L348.0,123.9 L346.0,125.1 L344.0,126.4 L342.0,127.6 L340.0,129.0Z" fill="#bfe1f3"/>
<path d="M340.0,130.3 L342.0,130.1 L344.0,129.9 L346.0,129.8 L348.0,129.6 L350.0,129.4 L352.0,129.3 L354.0,129.1 L356.0,128.9 L358.0,128.8 L360.0,128.6 L362.0,128.4 L364.0,128.3 L366.0,128.1 L368.0,128.0 L370.0,127.8 L372.0,127.6 L374.0,127.5 L376.0,127.3 L378.0,127.1 L380.0,127.0 L382.0,126.8 L384.0,126.6 L386.0,126.4 L388.0,126.2 L390.0,126.0 L392.0,125.8 L394.0,125.6 L396.0,125.4 L398.0,125.2 L400.0,125.0 L402.0,124.7 L404.0,124.5 L406.0,124.2 L408.0,124.0 L410.0,123.7 L412.0,123.4 L414.0,123.1 L416.0,122.8 L418.0,122.5 L420.0,122.2 L422.0,121.8 L424.0,121.4 L426.0,121.1 L428.0,120.7 L430.0,120.3 L432.0,119.9 L434.0,119.4 L436.0,119.0 L438.0,118.5 L440.0,118.0 L442.0,117.5 L444.0,117.0 L446.0,116.5 L448.0,115.9 L450.0,115.3 L452.0,114.7 L454.0,114.1 L456.0,113.5 L458.0,112.8 L460.0,112.2 L462.0,111.5 L464.0,110.7 L466.0,110.0 L468.0,109.2 L470.0,108.4 L472.0,107.6 L474.0,106.7 L476.0,105.9 L478.0,105.0 L480.0,104.1 L482.0,103.1 L484.0,102.1 L486.0,101.1 L488.0,100.1 L490.0,99.0 L492.0,97.9 L494.0,96.8 L496.0,95.7 L498.0,94.5 L500.0,93.3 L502.0,92.0 L504.0,90.7 L506.0,89.4 L508.0,88.1 L510.0,86.7 L512.0,85.3 L514.0,83.9 L516.0,82.4 L518.0,80.9 L520.0,79.3 L522.0,77.7 L524.0,76.1 L526.0,74.4 L528.0,72.7 L530.0,71.0 L532.0,69.2 L534.0,67.4 L536.0,65.6 L538.0,63.7 L540.0,61.7 L542.0,59.8 L544.0,57.8 L546.0,55.7 L548.0,53.6 L548.0,69.1 L546.0,70.5 L544.0,72.0 L542.0,73.4 L540.0,74.8 L538.0,76.3 L536.0,77.7 L534.0,79.1 L532.0,80.5 L530.0,81.8 L528.0,83.2 L526.0,84.6 L524.0,85.9 L522.0,87.3 L520.0,88.6 L518.0,89.9 L516.0,91.2 L514.0,92.4 L512.0,93.7 L510.0,94.9 L508.0,96.1 L506.0,97.3 L504.0,98.5 L502.0,99.7 L500.0,100.8 L498.0,101.9 L496.0,103.0 L494.0,104.1 L492.0,105.2 L490.0,106.2 L488.0,107.2 L486.0,108.2 L484.0,109.1 L482.0,110.0 L480.0,110.9 L478.0,111.8 L476.0,112.6 L474.0,113.4 L472.0,114.2 L470.0,115.0 L468.0,115.7 L466.0,116.5 L464.0,117.2 L462.0,117.8 L460.0,118.5 L458.0,119.1 L456.0,119.7 L454.0,120.4 L452.0,120.9 L450.0,121.5 L448.0,122.1 L446.0,122.6 L444.0,123.1 L442.0,123.6 L440.0,124.1 L438.0,124.6 L436.0,125.1 L434.0,125.5 L432.0,126.0 L430.0,126.4 L428.0,126.8 L426.0,127.2 L424.0,127.7 L422.0,128.1 L420.0,128.5 L418.0,128.8 L416.0,129.2 L414.0,129.6 L412.0,130.0 L410.0,130.4 L408.0,130.7 L406.0,131.1 L404.0,131.5 L402.0,131.8 L400.0,132.2 L398.0,132.6 L396.0,132.9 L394.0,133.3 L392.0,133.7 L390.0,134.1 L388.0,134.4 L386.0,134.8 L384.0,135.2 L382.0,135.6 L380.0,136.0 L378.0,136.4 L376.0,136.8 L374.0,137.3 L372.0,137.7 L370.0,138.2 L368.0,138.6 L366.0,139.1 L364.0,139.6 L362.0,140.1 L360.0,140.6 L358.0,141.1 L356.0,141.7 L354.0,142.2 L352.0,142.8 L350.0,143.4 L348.0,144.0 L346.0,144.6 L344.0,145.3 L342.0,145.9 L340.0,146.6Z" fill="#cde7c9"/>
<path d="M340.0,141.8 L342.0,141.1 L344.0,140.4 L346.0,139.7 L348.0,139.0 L350.0,138.4 L352.0,137.8 L354.0,137.2 L356.0,136.6 L358.0,136.1 L360.0,135.5 L362.0,135.0 L364.0,134.5 L366.0,134.1 L368.0,133.6 L370.0,133.2 L372.0,132.8 L374.0,132.4 L376.0,132.0 L378.0,131.6 L380.0,131.2 L382.0,130.9 L384.0,130.6 L386.0,130.2 L388.0,129.9 L390.0,129.6 L392.0,129.4 L394.0,129.1 L396.0,128.8 L398.0,128.5 L400.0,128.3 L402.0,128.0 L404.0,127.8 L406.0,127.6 L408.0,127.3 L410.0,127.1 L412.0,126.9 L414.0,126.7 L416.0,126.5 L418.0,126.3 L420.0,126.0 L422.0,125.8 L424.0,125.6 L426.0,125.4 L428.0,125.2 L430.0,125.0 L432.0,124.8 L434.0,124.6 L436.0,124.3 L438.0,124.1 L440.0,123.9 L442.0,123.7 L444.0,123.4 L446.0,123.2 L448.0,122.9 L450.0,122.6 L452.0,122.4 L454.0,122.1 L456.0,121.7 L458.0,121.4 L460.0,121.0 L462.0,120.6 L464.0,120.2 L466.0,119.8 L468.0,119.3 L470.0,118.8 L472.0,118.2 L474.0,117.6 L476.0,117.0 L478.0,116.3 L480.0,115.5 L482.0,114.8 L484.0,113.9 L486.0,113.0 L488.0,112.1 L490.0,111.1 L492.0,110.0 L494.0,108.9 L496.0,107.7 L498.0,106.4 L500.0,105.1 L502.0,103.7 L504.0,102.2 L506.0,100.6 L508.0,99.0 L510.0,97.2 L512.0,95.4 L514.0,93.5 L516.0,91.5 L518.0,89.4 L520.0,87.2 L522.0,85.0 L524.0,82.6 L526.0,80.1 L528.0,77.5 L530.0,74.8 L532.0,72.0 L534.0,69.1 L536.0,66.1 L538.0,62.9 L540.0,59.7 L542.0,56.3 L544.0,52.8 L546.0,49.2 L548.0,45.4 L548.0,76.4 L546.0,78.3 L544.0,80.3 L542.0,82.1 L540.0,84.0 L538.0,85.7 L536.0,87.4 L534.0,89.1 L532.0,90.7 L530.0,92.3 L528.0,93.8 L526.0,95.2 L524.0,96.7 L522.0,98.0 L520.0,99.3 L518.0,100.6 L516.0,101.9 L514.0,103.1 L512.0,104.2 L510.0,105.3 L508.0,106.4 L506.0,107.4 L504.0,108.4 L502.0,109.4 L500.0,110.3 L498.0,111.2 L496.0,112.1 L494.0,112.9 L492.0,113.7 L490.0,114.4 L488.0,115.2 L486.0,115.9 L484.0,116.6 L482.0,117.2 L480.0,117.8 L478.0,118.4 L476.0,119.0 L474.0,119.6 L472.0,120.1 L470.0,120.6 L468.0,121.1 L466.0,121.5 L464.0,122.0 L462.0,122.4 L460.0,122.9 L458.0,123.3 L456.0,123.6 L454.0,124.0 L452.0,124.4 L450.0,124.7 L448.0,125.1 L446.0,125.4 L444.0,125.7 L442.0,126.0 L440.0,126.3 L438.0,126.7 L436.0,127.0 L434.0,127.2 L432.0,127.5 L430.0,127.8 L428.0,128.1 L426.0,128.4 L424.0,128.7 L422.0,129.0 L420.0,129.3 L418.0,129.6 L416.0,129.9 L414.0,130.2 L412.0,130.5 L410.0,130.9 L408.0,131.2 L406.0,131.5 L404.0,131.9 L402.0,132.3 L400.0,132.6 L398.0,133.0 L396.0,133.4 L394.0,133.9 L392.0,134.3 L390.0,134.8 L388.0,135.2 L386.0,135.7 L384.0,136.3 L382.0,136.8 L380.0,137.3 L378.0,137.9 L376.0,138.5 L374.0,139.2 L372.0,139.8 L370.0,140.5 L368.0,141.2 L366.0,142.0 L364.0,142.8 L362.0,143.6 L360.0,144.4 L358.0,145.3 L356.0,146.2 L354.0,147.1 L352.0,148.1 L350.0,149.1 L348.0,150.2 L346.0,151.2 L344.0,152.4 L342.0,153.5 L340.0,154.8Z" fill="#f8c0b5"/>
<path d="M340.0,87.2 L341.0,86.9 L342.0,86.5 L343.0,86.2 L344.0,85.9 L345.0,85.5 L346.0,85.2 L347.0,84.9 L348.0,84.6 L349.0,84.3 L350.0,84.0 L351.0,83.7 L352.0,83.4 L353.0,83.1 L354.0,82.8 L355.0,82.5 L356.0,82.2 L357.0,81.9 L358.0,81.7 L359.0,81.4 L360.0,81.1 L361.0,80.9 L362.0,80.6 L363.0,80.3 L364.0,80.1 L365.0,79.8 L366.0,79.6 L367.0,79.4 L368.0,79.1 L369.0,78.9 L370.0,78.6 L371.0,78.4 L372.0,78.2 L373.0,77.9 L374.0,77.7 L375.0,77.5 L376.0,77.3 L377.0,77.0 L378.0,76.8 L379.0,76.6 L380.0,76.4 L381.0,76.2 L382.0,75.9 L383.0,75.7 L384.0,75.5 L385.0,75.3 L386.0,75.1 L387.0,74.9 L388.0,74.7 L389.0,74.5 L390.0,74.3 L391.0,74.1 L392.0,73.8 L393.0,73.6 L394.0,73.4 L395.0,73.2 L396.0,73.0 L397.0,72.8 L398.0,72.6 L399.0,72.4 L400.0,72.2 L401.0,72.0 L402.0,71.8 L403.0,71.6 L404.0,71.4 L405.0,71.2 L406.0,70.9 L407.0,70.7 L408.0,70.5 L409.0,70.3 L410.0,70.1 L411.0,69.9 L412.0,69.7 L413.0,69.4 L414.0,69.2 L415.0,69.0 L416.0,68.8 L417.0,68.5 L418.0,68.3 L419.0,68.1 L420.0,67.8 L421.0,67.6 L422.0,67.4 L423.0,67.1 L424.0,66.9 L425.0,66.6 L426.0,66.4 L427.0,66.1 L428.0,65.9 L429.0,65.6 L430.0,65.4 L431.0,65.1 L432.0,64.8 L433.0,64.6 L434.0,64.3 L435.0,64.0 L436.0,63.7 L437.0,63.4 L438.0,63.2 L439.0,62.9 L440.0,62.6 L441.0,62.3 L442.0,62.0 L443.0,61.6 L444.0,61.3 L445.0,61.0 L446.0,60.7 L447.0,60.4 L448.0,60.0 L449.0,59.7 L450.0,59.3 L451.0,59.0 L452.0,58.6 L453.0,58.3 L454.0,57.9 L455.0,57.6 L456.0,57.2 L457.0,56.8 L458.0,56.4 L459.0,56.0 L460.0,55.6 L461.0,55.2 L462.0,54.8 L463.0,54.4 L464.0,54.0 L465.0,53.5 L466.0,53.1 L467.0,52.6 L468.0,52.2 L469.0,51.7 L470.0,51.3 L471.0,50.8 L472.0,50.3 L473.0,49.8 L474.0,49.3 L475.0,48.8 L476.0,48.3 L477.0,47.8 L478.0,47.3 L479.0,46.8 L480.0,46.2 L481.0,45.7 L482.0,45.1 L483.0,44.6 L484.0,44.0 L485.0,43.4 L486.0,42.8 L487.0,42.2 L488.0,41.6 L489.0,41.0 L490.0,40.4 L491.0,39.8 L492.0,39.1 L493.0,38.5 L494.0,37.8 L495.0,37.2 L496.0,36.5 L497.0,35.8 L498.0,35.1 L499.0,34.4 L500.0,33.7 L501.0,33.0 L502.0,32.2 L503.0,31.5 L504.0,30.7 L505.0,30.0 L506.0,29.2 L507.0,28.4 L508.0,27.6 L509.0,26.8 L510.0,26.0 L511.0,25.1 L512.0,24.3 L513.0,23.5 L514.0,22.6 L515.0,21.7 L516.0,20.8 L517.0,19.9 L518.0,19.0 L519.0,18.1 L520.0,17.2 L521.0,16.2 L522.0,15.3 L523.0,14.3 L524.0,13.4 L525.0,12.4 L526.0,11.4 L527.0,10.4 L528.0,9.3 L529.0,8.3 L530.0,7.2 L531.0,6.2 L532.0,5.1 L533.0,4.0 L534.0,2.9 L535.0,1.8 L536.0,0.7 L537.0,-0.5 L538.0,-1.6 L539.0,-2.8 L540.0,-4.0 L541.0,-5.2 L542.0,-6.4 L543.0,-7.6 L544.0,-8.8 L545.0,-10.1 L546.0,-11.3 L547.0,-12.6 L548.0,-13.9" fill="none" stroke="#151515" stroke-width="1.8" stroke-dasharray="2.5 3.7"/>
<path d="M340.0,119.3 L341.0,118.7 L342.0,118.1 L343.0,117.5 L344.0,116.9 L345.0,116.4 L346.0,115.8 L347.0,115.3 L348.0,114.8 L349.0,114.2 L350.0,113.7 L351.0,113.2 L352.0,112.8 L353.0,112.3 L354.0,111.8 L355.0,111.3 L356.0,110.9 L357.0,110.5 L358.0,110.0 L359.0,109.6 L360.0,109.2 L361.0,108.8 L362.0,108.4 L363.0,108.0 L364.0,107.7 L365.0,107.3 L366.0,106.9 L367.0,106.6 L368.0,106.2 L369.0,105.9 L370.0,105.6 L371.0,105.2 L372.0,104.9 L373.0,104.6 L374.0,104.3 L375.0,104.0 L376.0,103.7 L377.0,103.5 L378.0,103.2 L379.0,102.9 L380.0,102.7 L381.0,102.4 L382.0,102.2 L383.0,101.9 L384.0,101.7 L385.0,101.4 L386.0,101.2 L387.0,101.0 L388.0,100.8 L389.0,100.6 L390.0,100.4 L391.0,100.2 L392.0,99.9 L393.0,99.8 L394.0,99.6 L395.0,99.4 L396.0,99.2 L397.0,99.0 L398.0,98.8 L399.0,98.6 L400.0,98.5 L401.0,98.3 L402.0,98.1 L403.0,98.0 L404.0,97.8 L405.0,97.7 L406.0,97.5 L407.0,97.3 L408.0,97.2 L409.0,97.0 L410.0,96.9 L411.0,96.7 L412.0,96.6 L413.0,96.4 L414.0,96.3 L415.0,96.1 L416.0,96.0 L417.0,95.8 L418.0,95.7 L419.0,95.6 L420.0,95.4 L421.0,95.3 L422.0,95.1 L423.0,95.0 L424.0,94.8 L425.0,94.7 L426.0,94.5 L427.0,94.4 L428.0,94.2 L429.0,94.1 L430.0,93.9 L431.0,93.8 L432.0,93.6 L433.0,93.4 L434.0,93.3 L435.0,93.1 L436.0,92.9 L437.0,92.8 L438.0,92.6 L439.0,92.4 L440.0,92.2 L441.0,92.1 L442.0,91.9 L443.0,91.7 L444.0,91.5 L445.0,91.3 L446.0,91.1 L447.0,90.9 L448.0,90.7 L449.0,90.5 L450.0,90.2 L451.0,90.0 L452.0,89.8 L453.0,89.5 L454.0,89.3 L455.0,89.1 L456.0,88.8 L457.0,88.6 L458.0,88.3 L459.0,88.0 L460.0,87.8 L461.0,87.5 L462.0,87.2 L463.0,86.9 L464.0,86.6 L465.0,86.3 L466.0,86.0 L467.0,85.6 L468.0,85.3 L469.0,85.0 L470.0,84.6 L471.0,84.3 L472.0,83.9 L473.0,83.5 L474.0,83.2 L475.0,82.8 L476.0,82.4 L477.0,82.0 L478.0,81.6 L479.0,81.2 L480.0,80.7 L481.0,80.3 L482.0,79.8 L483.0,79.4 L484.0,78.9 L485.0,78.4 L486.0,77.9 L487.0,77.4 L488.0,76.9 L489.0,76.4 L490.0,75.9 L491.0,75.3 L492.0,74.8 L493.0,74.2 L494.0,73.6 L495.0,73.0 L496.0,72.5 L497.0,71.8 L498.0,71.2 L499.0,70.6 L500.0,69.9 L501.0,69.3 L502.0,68.6 L503.0,67.9 L504.0,67.2 L505.0,66.5 L506.0,65.8 L507.0,65.0 L508.0,64.3 L509.0,63.5 L510.0,62.7 L511.0,61.9 L512.0,61.1 L513.0,60.3 L514.0,59.5 L515.0,58.6 L516.0,57.8 L517.0,56.9 L518.0,56.0 L519.0,55.1 L520.0,54.2 L521.0,53.2 L522.0,52.3 L523.0,51.3 L524.0,50.3 L525.0,49.3 L526.0,48.3 L527.0,47.2 L528.0,46.2 L529.0,45.1 L530.0,44.0 L531.0,42.9 L532.0,41.8 L533.0,40.6 L534.0,39.5 L535.0,38.3 L536.0,37.1 L537.0,35.9 L538.0,34.7 L539.0,33.4 L540.0,32.2 L541.0,30.9 L542.0,29.6 L543.0,28.3 L544.0,26.9 L545.0,25.6 L546.0,24.2 L547.0,22.8 L548.0,21.4" fill="none" stroke="#1f86c6" stroke-width="1.5"/>
<path d="M340.0,139.6 L341.0,139.3 L342.0,139.1 L343.0,138.8 L344.0,138.6 L345.0,138.3 L346.0,138.1 L347.0,137.8 L348.0,137.6 L349.0,137.3 L350.0,137.1 L351.0,136.9 L352.0,136.7 L353.0,136.4 L354.0,136.2 L355.0,136.0 L356.0,135.8 L357.0,135.6 L358.0,135.4 L359.0,135.2 L360.0,135.0 L361.0,134.8 L362.0,134.6 L363.0,134.4 L364.0,134.2 L365.0,134.0 L366.0,133.8 L367.0,133.7 L368.0,133.5 L369.0,133.3 L370.0,133.1 L371.0,133.0 L372.0,132.8 L373.0,132.6 L374.0,132.5 L375.0,132.3 L376.0,132.1 L377.0,132.0 L378.0,131.8 L379.0,131.6 L380.0,131.5 L381.0,131.3 L382.0,131.2 L383.0,131.0 L384.0,130.9 L385.0,130.7 L386.0,130.6 L387.0,130.4 L388.0,130.3 L389.0,130.1 L390.0,130.0 L391.0,129.8 L392.0,129.7 L393.0,129.5 L394.0,129.4 L395.0,129.2 L396.0,129.1 L397.0,128.9 L398.0,128.8 L399.0,128.6 L400.0,128.5 L401.0,128.3 L402.0,128.2 L403.0,128.0 L404.0,127.9 L405.0,127.7 L406.0,127.6 L407.0,127.4 L408.0,127.3 L409.0,127.1 L410.0,127.0 L411.0,126.8 L412.0,126.7 L413.0,126.5 L414.0,126.3 L415.0,126.2 L416.0,126.0 L417.0,125.8 L418.0,125.7 L419.0,125.5 L420.0,125.3 L421.0,125.2 L422.0,125.0 L423.0,124.8 L424.0,124.7 L425.0,124.5 L426.0,124.3 L427.0,124.1 L428.0,123.9 L429.0,123.7 L430.0,123.5 L431.0,123.3 L432.0,123.1 L433.0,123.0 L434.0,122.7 L435.0,122.5 L436.0,122.3 L437.0,122.1 L438.0,121.9 L439.0,121.7 L440.0,121.5 L441.0,121.2 L442.0,121.0 L443.0,120.8 L444.0,120.5 L445.0,120.3 L446.0,120.1 L447.0,119.8 L448.0,119.6 L449.0,119.3 L450.0,119.1 L451.0,118.8 L452.0,118.5 L453.0,118.3 L454.0,118.0 L455.0,117.7 L456.0,117.4 L457.0,117.1 L458.0,116.8 L459.0,116.5 L460.0,116.2 L461.0,115.9 L462.0,115.6 L463.0,115.3 L464.0,115.0 L465.0,114.6 L466.0,114.3 L467.0,113.9 L468.0,113.6 L469.0,113.2 L470.0,112.9 L471.0,112.5 L472.0,112.2 L473.0,111.8 L474.0,111.4 L475.0,111.0 L476.0,110.6 L477.0,110.2 L478.0,109.8 L479.0,109.4 L480.0,109.0 L481.0,108.6 L482.0,108.1 L483.0,107.7 L484.0,107.2 L485.0,106.8 L486.0,106.3 L487.0,105.9 L488.0,105.4 L489.0,104.9 L490.0,104.4 L491.0,103.9 L492.0,103.4 L493.0,102.9 L494.0,102.4 L495.0,101.9 L496.0,101.3 L497.0,100.8 L498.0,100.3 L499.0,99.7 L500.0,99.1 L501.0,98.6 L502.0,98.0 L503.0,97.4 L504.0,96.8 L505.0,96.2 L506.0,95.6 L507.0,95.0 L508.0,94.3 L509.0,93.7 L510.0,93.0 L511.0,92.4 L512.0,91.7 L513.0,91.0 L514.0,90.4 L515.0,89.7 L516.0,89.0 L517.0,88.2 L518.0,87.5 L519.0,86.8 L520.0,86.0 L521.0,85.3 L522.0,84.5 L523.0,83.8 L524.0,83.0 L525.0,82.2 L526.0,81.4 L527.0,80.6 L528.0,79.8 L529.0,78.9 L530.0,78.1 L531.0,77.2 L532.0,76.4 L533.0,75.5 L534.0,74.6 L535.0,73.7 L536.0,72.8 L537.0,71.9 L538.0,71.0 L539.0,70.1 L540.0,69.1 L541.0,68.1 L542.0,67.2 L543.0,66.2 L544.0,65.2 L545.0,64.2 L546.0,63.2 L547.0,62.2 L548.0,61.1" fill="none" stroke="#2f8240" stroke-width="1.5" stroke-dasharray="2.3 3.9"/>
<path d="M340.0,147.1 L341.0,146.6 L342.0,146.1 L343.0,145.6 L344.0,145.1 L345.0,144.6 L346.0,144.1 L347.0,143.6 L348.0,143.1 L349.0,142.7 L350.0,142.3 L351.0,141.8 L352.0,141.4 L353.0,141.0 L354.0,140.6 L355.0,140.2 L356.0,139.8 L357.0,139.4 L358.0,139.1 L359.0,138.7 L360.0,138.3 L361.0,138.0 L362.0,137.7 L363.0,137.3 L364.0,137.0 L365.0,136.7 L366.0,136.4 L367.0,136.1 L368.0,135.8 L369.0,135.6 L370.0,135.3 L371.0,135.0 L372.0,134.8 L373.0,134.5 L374.0,134.3 L375.0,134.0 L376.0,133.8 L377.0,133.6 L378.0,133.3 L379.0,133.1 L380.0,132.9 L381.0,132.7 L382.0,132.5 L383.0,132.3 L384.0,132.1 L385.0,132.0 L386.0,131.8 L387.0,131.6 L388.0,131.4 L389.0,131.3 L390.0,131.1 L391.0,131.0 L392.0,130.8 L393.0,130.7 L394.0,130.5 L395.0,130.4 L396.0,130.2 L397.0,130.1 L398.0,130.0 L399.0,129.8 L400.0,129.7 L401.0,129.6 L402.0,129.5 L403.0,129.4 L404.0,129.2 L405.0,129.1 L406.0,129.0 L407.0,128.9 L408.0,128.8 L409.0,128.7 L410.0,128.6 L411.0,128.5 L412.0,128.4 L413.0,128.3 L414.0,128.2 L415.0,128.1 L416.0,128.0 L417.0,127.9 L418.0,127.8 L419.0,127.7 L420.0,127.6 L421.0,127.5 L422.0,127.4 L423.0,127.3 L424.0,127.2 L425.0,127.1 L426.0,127.0 L427.0,126.9 L428.0,126.8 L429.0,126.7 L430.0,126.6 L431.0,126.5 L432.0,126.4 L433.0,126.2 L434.0,126.1 L435.0,126.0 L436.0,125.9 L437.0,125.8 L438.0,125.6 L439.0,125.5 L440.0,125.4 L441.0,125.3 L442.0,125.1 L443.0,125.0 L444.0,124.8 L445.0,124.7 L446.0,124.6 L447.0,124.4 L448.0,124.2 L449.0,124.1 L450.0,123.9 L451.0,123.7 L452.0,123.6 L453.0,123.4 L454.0,123.2 L455.0,123.0 L456.0,122.8 L457.0,122.6 L458.0,122.4 L459.0,122.2 L460.0,122.0 L461.0,121.8 L462.0,121.5 L463.0,121.3 L464.0,121.1 L465.0,120.8 L466.0,120.6 L467.0,120.3 L468.0,120.0 L469.0,119.8 L470.0,119.5 L471.0,119.2 L472.0,118.9 L473.0,118.6 L474.0,118.3 L475.0,118.0 L476.0,117.6 L477.0,117.3 L478.0,116.9 L479.0,116.6 L480.0,116.2 L481.0,115.9 L482.0,115.5 L483.0,115.1 L484.0,114.7 L485.0,114.3 L486.0,113.9 L487.0,113.4 L488.0,113.0 L489.0,112.6 L490.0,112.1 L491.0,111.6 L492.0,111.2 L493.0,110.7 L494.0,110.2 L495.0,109.7 L496.0,109.2 L497.0,108.6 L498.0,108.1 L499.0,107.5 L500.0,107.0 L501.0,106.4 L502.0,105.8 L503.0,105.2 L504.0,104.6 L505.0,104.0 L506.0,103.3 L507.0,102.7 L508.0,102.0 L509.0,101.4 L510.0,100.7 L511.0,100.0 L512.0,99.3 L513.0,98.5 L514.0,97.8 L515.0,97.0 L516.0,96.3 L517.0,95.5 L518.0,94.7 L519.0,93.9 L520.0,93.1 L521.0,92.2 L522.0,91.4 L523.0,90.5 L524.0,89.6 L525.0,88.7 L526.0,87.8 L527.0,86.9 L528.0,85.9 L529.0,85.0 L530.0,84.0 L531.0,83.0 L532.0,82.0 L533.0,81.0 L534.0,80.0 L535.0,78.9 L536.0,77.8 L537.0,76.7 L538.0,75.6 L539.0,74.5 L540.0,73.4 L541.0,72.2 L542.0,71.0 L543.0,69.8 L544.0,68.6 L545.0,67.4 L546.0,66.2 L547.0,64.9 L548.0,63.6" fill="none" stroke="#dd3d2c" stroke-width="1.5"/>
</g>
<path d="M62.2,1.0 H263.9 V203.2 H62.2 Z" fill="none" stroke="#2e2e2e" stroke-width="1.7"/>
<line x1="56.0" y1="195.75" x2="62.2" y2="195.75" stroke="#2e2e2e" stroke-width="1.5"/>
<text x="49.1" y="200.65" text-anchor="end" font-size="11">0</text>
<line x1="56.0" y1="154.45" x2="62.2" y2="154.45" stroke="#2e2e2e" stroke-width="1.5"/>
<text x="49.1" y="159.35" text-anchor="end" font-size="11">2</text>
<line x1="56.0" y1="113.15" x2="62.2" y2="113.15" stroke="#2e2e2e" stroke-width="1.5"/>
<text x="49.1" y="118.05" text-anchor="end" font-size="11">4</text>
<line x1="56.0" y1="71.85" x2="62.2" y2="71.85" stroke="#2e2e2e" stroke-width="1.5"/>
<text x="49.1" y="76.75" text-anchor="end" font-size="11">6</text>
<line x1="56.0" y1="30.55" x2="62.2" y2="30.55" stroke="#2e2e2e" stroke-width="1.5"/>
<text x="49.1" y="35.45" text-anchor="end" font-size="11">8</text>
<line x1="69.50" y1="203.2" x2="69.50" y2="209.7" stroke="#2e2e2e" stroke-width="1.5"/>
<text x="70.30" y="227.8" text-anchor="middle" font-size="11">30</text>
<line x1="98.17" y1="203.2" x2="98.17" y2="209.7" stroke="#2e2e2e" stroke-width="1.5"/>
<text x="98.97" y="227.8" text-anchor="middle" font-size="11">40</text>
<line x1="126.83" y1="203.2" x2="126.83" y2="209.7" stroke="#2e2e2e" stroke-width="1.5"/>
<text x="127.63" y="227.8" text-anchor="middle" font-size="11">50</text>
<line x1="155.50" y1="203.2" x2="155.50" y2="209.7" stroke="#2e2e2e" stroke-width="1.5"/>
<text x="156.30" y="227.8" text-anchor="middle" font-size="11">60</text>
<line x1="184.17" y1="203.2" x2="184.17" y2="209.7" stroke="#2e2e2e" stroke-width="1.5"/>
<text x="184.97" y="227.8" text-anchor="middle" font-size="11">70</text>
<line x1="212.83" y1="203.2" x2="212.83" y2="209.7" stroke="#2e2e2e" stroke-width="1.5"/>
<text x="213.63" y="227.8" text-anchor="middle" font-size="11">80</text>
<line x1="241.50" y1="203.2" x2="241.50" y2="209.7" stroke="#2e2e2e" stroke-width="1.5"/>
<text x="242.30" y="227.8" text-anchor="middle" font-size="11">90</text>
<path d="M343.2,1.0 H544.9 V203.2 H343.2 Z" fill="none" stroke="#2e2e2e" stroke-width="1.7"/>
<line x1="337.0" y1="195.75" x2="343.2" y2="195.75" stroke="#2e2e2e" stroke-width="1.5"/>
<text x="330.09999999999997" y="200.65" text-anchor="end" font-size="11">0</text>
<line x1="337.0" y1="154.45" x2="343.2" y2="154.45" stroke="#2e2e2e" stroke-width="1.5"/>
<text x="330.09999999999997" y="159.35" text-anchor="end" font-size="11">2</text>
<line x1="337.0" y1="113.15" x2="343.2" y2="113.15" stroke="#2e2e2e" stroke-width="1.5"/>
<text x="330.09999999999997" y="118.05" text-anchor="end" font-size="11">4</text>
<line x1="337.0" y1="71.85" x2="343.2" y2="71.85" stroke="#2e2e2e" stroke-width="1.5"/>
<text x="330.09999999999997" y="76.75" text-anchor="end" font-size="11">6</text>
<line x1="337.0" y1="30.55" x2="343.2" y2="30.55" stroke="#2e2e2e" stroke-width="1.5"/>
<text x="330.09999999999997" y="35.45" text-anchor="end" font-size="11">8</text>
<line x1="350.50" y1="203.2" x2="350.50" y2="209.7" stroke="#2e2e2e" stroke-width="1.5"/>
<text x="351.30" y="227.8" text-anchor="middle" font-size="11">30</text>
<line x1="379.17" y1="203.2" x2="379.17" y2="209.7" stroke="#2e2e2e" stroke-width="1.5"/>
<text x="379.97" y="227.8" text-anchor="middle" font-size="11">40</text>
<line x1="407.83" y1="203.2" x2="407.83" y2="209.7" stroke="#2e2e2e" stroke-width="1.5"/>
<text x="408.63" y="227.8" text-anchor="middle" font-size="11">50</text>
<line x1="436.50" y1="203.2" x2="436.50" y2="209.7" stroke="#2e2e2e" stroke-width="1.5"/>
<text x="437.30" y="227.8" text-anchor="middle" font-size="11">60</text>
<line x1="465.17" y1="203.2" x2="465.17" y2="209.7" stroke="#2e2e2e" stroke-width="1.5"/>
<text x="465.97" y="227.8" text-anchor="middle" font-size="11">70</text>
<line x1="493.83" y1="203.2" x2="493.83" y2="209.7" stroke="#2e2e2e" stroke-width="1.5"/>
<text x="494.63" y="227.8" text-anchor="middle" font-size="11">80</text>
<line x1="522.50" y1="203.2" x2="522.50" y2="209.7" stroke="#2e2e2e" stroke-width="1.5"/>
<text x="523.30" y="227.8" text-anchor="middle" font-size="11">90</text>
<line x1="158" y1="149.75" x2="178.5" y2="149.75" stroke="#cf5a50" stroke-width="1.5"/>
<text x="188.3" y="153.05" font-size="10.7" xml:space="preserve">men, no AF</text>
<line x1="158" y1="163.5" x2="178.5" y2="163.5" stroke="#3287bf" stroke-width="1.5"/>
<text x="188.3" y="166.8" font-size="10.7" xml:space="preserve">men,  AF</text>
<line x1="158" y1="177" x2="178.5" y2="177" stroke="#3a8a50" stroke-width="1.2" stroke-dasharray="2.6 3.8"/>
<text x="188.3" y="180.3" font-size="10.7" xml:space="preserve">women, no AF</text>
<line x1="158" y1="191" x2="178.5" y2="191" stroke="#111" stroke-width="1.6" stroke-dasharray="2.6 3.8"/>
<text x="188.3" y="194.3" font-size="10.7" xml:space="preserve">women,  AF</text>
<line x1="442.5" y1="151.05" x2="463.0" y2="151.05" stroke="#cf5a50" stroke-width="1.5"/>
<text x="472.8" y="154.35000000000002" font-size="10.7" xml:space="preserve">men, no AF</text>
<line x1="442.5" y1="164.8" x2="463.0" y2="164.8" stroke="#3287bf" stroke-width="1.5"/>
<text x="472.8" y="168.10000000000002" font-size="10.7" xml:space="preserve">men,  AF</text>
<line x1="442.5" y1="178.3" x2="463.0" y2="178.3" stroke="#3a8a50" stroke-width="1.2" stroke-dasharray="2.6 3.8"/>
<text x="472.8" y="181.60000000000002" font-size="10.7" xml:space="preserve">women, no AF</text>
<line x1="442.5" y1="192.3" x2="463.0" y2="192.3" stroke="#111" stroke-width="1.6" stroke-dasharray="2.6 3.8"/>
<text x="472.8" y="195.60000000000002" font-size="10.7" xml:space="preserve">women,  AF</text>
<text transform="translate(69.4,23.7) scale(0.97,1)" font-size="23" font-weight="bold" fill="#111">A</text>
<text transform="translate(351.2,25.3) scale(0.88,1)" font-size="22.6" font-weight="bold" fill="#111">B</text>
<text transform="translate(11.8,186.4) rotate(-90)" font-size="16.3">stroke severity (NIHSS)</text>
<text x="163.3" y="253.5" text-anchor="middle" font-size="16.6">age</text>
<text x="444.2" y="253.5" text-anchor="middle" font-size="16.6">age</text>
</svg>
</body></html>
